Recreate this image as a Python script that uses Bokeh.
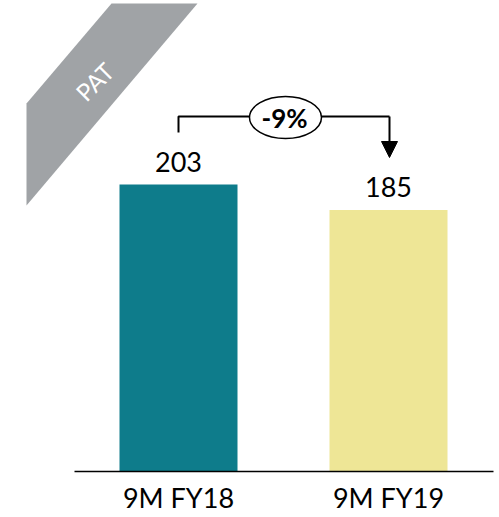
import math
from bokeh.plotting import figure
from bokeh.models import Range1d, Arrow, NormalHead
from bokeh.core.properties import value
from bokeh.embed import file_html
from bokeh.resources import INLINE

# ---- data ----
categories = ["9M FY18", "9M FY19"]
pat_values = [203, 185]
value_labels = ["203", "185"]
change_label = "-9%"
band_label = "PAT"
bar_colors = ["#0E7C8B", "#EEE696"]

# ---- layout helpers (pixel -> data) ----
W, H = 499, 517
X0_PX, DX_PX = 178, 210
BASE_PX, PX_PER_UNIT = 471, 287 / 203


def dx(px):
    return (px - X0_PX) / DX_PX


def dy(py):
    return (BASE_PX - py) / PX_PER_UNIT


xs = list(range(len(categories)))

p = figure(width=W, height=H, output_backend="svg", toolbar_location=None,
           x_range=Range1d(dx(0), dx(W)), y_range=Range1d(dy(H), dy(0)),
           min_border_left=0, min_border_right=0, min_border_top=0, min_border_bottom=0)
p.outline_line_color = None
p.xgrid.visible = False
p.ygrid.visible = False
p.xaxis.visible = False
p.yaxis.visible = False
p.background_fill_color = "white"
p.border_fill_color = "white"

# gray corner band
p.patch(x=[dx(111), dx(197), dx(26), dx(26)], y=[dy(3), dy(3), dy(205), dy(103)],
        fill_color="#A0A3A6", line_color=None)
p.text(x=[dx(94)], y=[dy(81)], text=[band_label], angle=math.pi / 4,
       text_font=value("Lato"), text_font_size="24px", text_color="white",
       text_align="center", text_baseline="middle")

# bars
p.vbar(x=xs, top=pat_values, width=118 / DX_PX, fill_color=bar_colors, line_color=None)

# baseline (category axis line)
p.segment(x0=[dx(74)], y0=[0], x1=[dx(493)], y1=[0], line_color="black", line_width=1.5)

# category labels
p.text(x=xs, y=[dy(497)] * len(xs), text=categories, text_font=value("Lato"),
       text_font_size="27px", text_color="black", text_align="center", text_baseline="middle")

# value labels (centre ~23 px above bar top)
label_gap = 23 / PX_PER_UNIT
p.text(x=xs, y=[v + label_gap for v in pat_values], text=value_labels, text_font=value("Lato"),
       text_font_size="27px", text_color="black", text_align="center", text_baseline="middle")

# change bracket
p.line(x=[xs[0], xs[0], dx(389)], y=[dy(132), dy(116), dy(116)], line_color="black", line_width=2)
p.add_layout(Arrow(end=NormalHead(size=16, fill_color="black", line_color="black"),
                   x_start=dx(389), y_start=dy(116), x_end=dx(389), y_end=dy(157),
                   line_color="black", line_width=2))
p.ellipse(x=[dx(285)], y=[dy(117)], width=72, height=42, width_units="screen", height_units="screen",
          fill_color="white", line_color="black", line_width=1.5)
p.text(x=[dx(284)], y=[dy(117)], text=[change_label], text_font=value("Lato"), text_font_style="bold",
       text_font_size="26px", text_color="black", text_align="center", text_baseline="middle")

open("out.html", "w").write(file_html(p, INLINE))
